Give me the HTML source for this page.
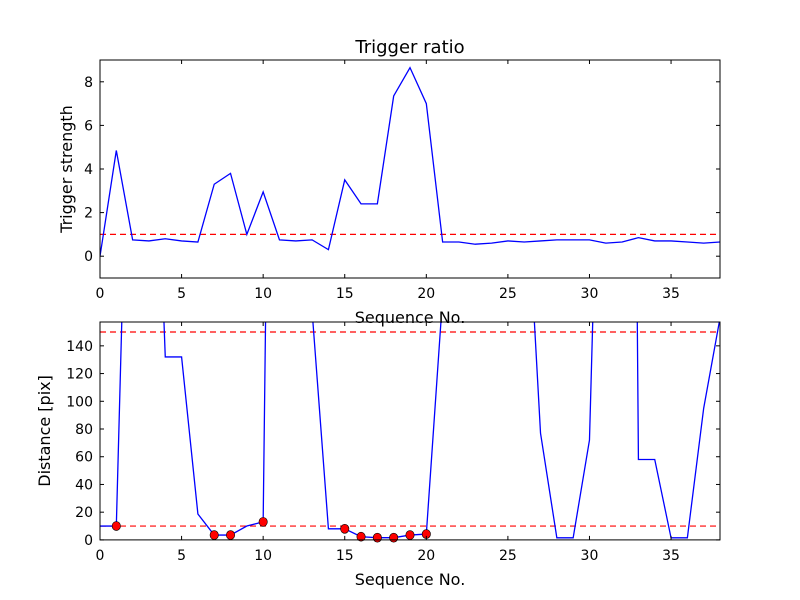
<!DOCTYPE html>
<html><head><meta charset="utf-8"><style>
body{margin:0;background:#fff}
svg{display:block;font-family:"DejaVu Sans","Liberation Sans",sans-serif}
</style></head><body>
<svg id="fig" width="800" height="600" viewBox="0 0 800 600">
<rect width="800" height="600" fill="#fff"/>
</svg>
<script>
const seq = Array.from({length:39},(_, i)=>i);
const triggerStrength = [0,4.85,0.75,0.7,0.8,0.7,0.65,3.3,3.8,1.0,2.95,0.75,0.7,0.75,0.3,3.5,2.4,2.4,7.35,8.65,7.0,0.65,0.65,0.55,0.6,0.7,0.65,0.7,0.75,0.75,0.75,0.6,0.65,0.85,0.7,0.7,0.65,0.6,0.65];
const distance = [10,10,450,450,132,132,18.7,3.5,3.5,10,13,1000,1000,165,8,8,2.3,1.6,1.6,3.5,4.2,175,300,300,300,300,290,77,1.5,1.5,72,500,1500,58,58,1.5,1.5,95,160];
const markerIdx = [1,7,8,10,15,16,17,18,19,20];
const topThreshold = [1];
const bottomThresholds = [150,10];
const xTicks = [0,5,10,15,20,25,30,35];
const topYTicks = [0,2,4,6,8];
const botYTicks = [0,20,40,60,80,100,120,140];

const NS="http://www.w3.org/2000/svg";
const svg=document.getElementById('fig');
function el(tag,attrs,parent){const e=document.createElementNS(NS,tag);for(const k in attrs)e.setAttribute(k,attrs[k]);(parent||svg).appendChild(e);return e;}

function panel(name,top,bottom,ymin,ymax,yTicks,ylabel,ylabelX){
  const L=100,R=720;
  const sx=v=>L+(v-0)/(38-0)*(R-L);
  const sy=v=>bottom-(v-ymin)/(ymax-ymin)*(bottom-top);
  const g=el('g',{});
  
  
  const cp=el('clipPath',{id:name+'-clip'},g);
  el('rect',{x:L,y:top,width:R-L,height:bottom-top},cp);
  const pg=el('g',{'clip-path':'url(#'+name+'-clip)'},g);
  return {g,pg,sx,sy,L,R,top,bottom,ylabel,ylabelX,yTicks,name};
}
function frame(p){
  const {g,sx,sy,L,R,top,bottom}=p;
  for(const t of xTicks){
    const x=sx(t);
    el('line',{x1:x,x2:x,y1:bottom,y2:bottom-4,stroke:'#000'},g);
    el('line',{x1:x,x2:x,y1:top,y2:top+4,stroke:'#000'},g);
    const tx=el('text',{x:x,y:bottom+20,'text-anchor':'middle','font-size':14},g);
    tx.textContent=t;
    
    
  }
  for(const t of p.yTicks){
    const y=sy(t);
    el('line',{x1:L,x2:L+4,y1:y,y2:y,stroke:'#000'},g);
    el('line',{x1:R,x2:R-4,y1:y,y2:y,stroke:'#000'},g);
    const ty=el('text',{x:L-7,y:y+5,'text-anchor':'end','font-size':14},g);
    ty.textContent=t;
    
    
  }
  el('rect',{x:L,y:top,width:R-L,height:bottom-top,fill:'none',stroke:'#000','stroke-width':1},g);
  const xl=el('text',{x:(L+R)/2,y:bottom+45,'text-anchor':'middle','font-size':16},g);
  xl.textContent='Sequence No.';
  
  
  const yc=(top+bottom)/2;
  const yl=el('text',{x:p.ylabelX,y:yc,'text-anchor':'middle','font-size':16,transform:`rotate(-90 ${p.ylabelX} ${yc})`},g);
  yl.textContent=p.ylabel;
  
  
}

const p1=panel('trigger',60,278,-1,9,topYTicks,'Trigger strength',72);
for(const t of topThreshold){
  const l=el('line',{x1:p1.L,x2:p1.R,y1:p1.sy(t),y2:p1.sy(t),stroke:'#f00','stroke-width':1.2,'stroke-dasharray':'6,4'},p1.pg);
  
  
}
const l1=el('polyline',{points:seq.map(i=>p1.sx(i)+','+p1.sy(triggerStrength[i])).join(' '),fill:'none',stroke:'#00f','stroke-width':1.3},p1.pg);



const p2=panel('distance',322,539.9,0,157.2,botYTicks,'Distance [pix]',50);
for(const t of bottomThresholds){
  const l=el('line',{x1:p2.L,x2:p2.R,y1:p2.sy(t),y2:p2.sy(t),stroke:'#f00','stroke-width':1.2,'stroke-dasharray':'6,4'},p2.pg);
  
  
}
const l2=el('polyline',{points:seq.map(i=>p2.sx(i)+','+p2.sy(distance[i])).join(' '),fill:'none',stroke:'#00f','stroke-width':1.3},p2.pg);


for(const i of markerIdx){
  const c=el('ellipse',{cx:p2.sx(i),cy:p2.sy(distance[i]),rx:4.2,ry:4.5,fill:'#f00',stroke:'#000','stroke-width':0.6},p2.g);
  
  
}
frame(p2);
frame(p1);

const title=el('text',{x:410,y:53,'text-anchor':'middle','font-size':18});
title.textContent='Trigger ratio';


</script>
</body></html>
